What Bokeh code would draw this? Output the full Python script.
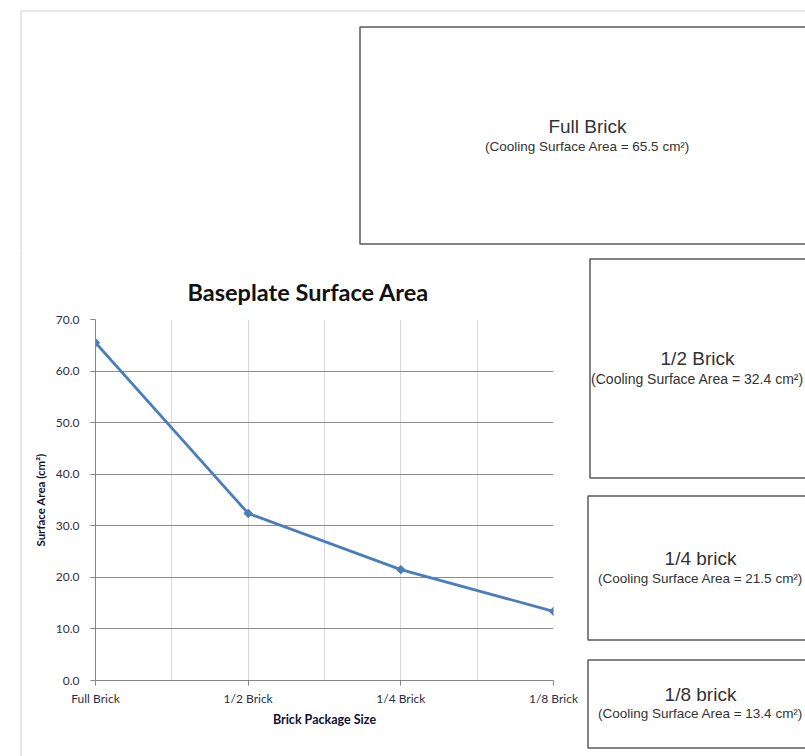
import numpy as np
from bokeh.plotting import figure
from bokeh.layouts import column, row
from bokeh.models import Range1d, FixedTicker, Label, PrintfTickFormatter
from bokeh.embed import file_html
from bokeh.resources import INLINE

# ---- data ----
categories = ["Full Brick", "1/2 Brick", "1/4 Brick", "1/8 Brick"]
surface_area = [65.5, 32.4, 21.5, 13.4]
y_ticks = [0, 10, 20, 30, 40, 50, 60, 70]
box_titles = ["Full Brick", "1/2 Brick", "1/4 brick", "1/8 brick"]

# ---- layout (picture pixels) ----
W, H = 805, 756
TOP_H = 250          # height of the top strip
L_W = 30             # thin strip that carries the left page border
R_X = 583            # left edge of the right column of boxes
FL, FR, FT, FB = 95, 553, 319, 680   # chart frame edges

BORDER = "#cfcfcf"
BOX_LINE = "#5a5a5a"
BOX_TXT = "#333333"
AX_FONT = "Lato"
TXT = "#2e2e48"


def canvas(x0, x1, y0, y1):
    """A blank figure whose frame covers the whole figure; data = picture px."""
    f = figure(width=x1 - x0, height=y1 - y0, output_backend="svg",
               toolbar_location=None, x_axis_location=None, y_axis_location=None,
               x_range=Range1d(x0, x1), y_range=Range1d(y1, y0),
               min_border=0, min_border_left=0, min_border_right=0,
               min_border_top=0, min_border_bottom=0)
    f.outline_line_color = None
    f.xgrid.visible = False
    f.ygrid.visible = False
    f.border_fill_color = "white"
    return f


def brick_box(f, l, t, b, cx, ty, ny, title, val, note_size="13.5px"):
    f.quad(left=[l + 0.5], right=[W + 40], top=[t + 0.5], bottom=[b + 0.5],
           fill_color=None, line_color=BOX_LINE, line_width=1.5)
    f.add_layout(Label(x=cx, y=ty, text=title, text_font="Liberation Sans",
                       text_font_size="19px", text_align="center",
                       text_baseline="middle", text_color=BOX_TXT))
    f.add_layout(Label(x=cx, y=ny, text=f"(Cooling Surface Area = {val} cm²)",
                       text_font="Liberation Sans", text_font_size=note_size,
                       text_align="center", text_baseline="middle",
                       text_color=BOX_TXT))


# ---- top strip: page border + full brick box ----
top = canvas(0, W, 0, TOP_H)
top.segment(x0=[20.5, 20.5], y0=[10.5, 10.5], x1=[W + 10, 20.5], y1=[10.5, TOP_H + 5],
            line_color=BORDER, line_width=1)
brick_box(top, 359, 26, 243, 587, 126, 146, box_titles[0], surface_area[0])

# ---- left strip: page border ----
left = canvas(0, L_W, TOP_H, H)
left.segment(x0=[20.5], y0=[TOP_H - 5], x1=[20.5], y1=[H + 5],
             line_color=BORDER, line_width=1)

# ---- right column: the three smaller boxes ----
right = canvas(R_X, W, TOP_H, H)
brick_box(right, 589, 258, 477, 697, 358, 378, box_titles[1], surface_area[1], "14px")
brick_box(right, 587, 495, 639, 700, 558, 578, box_titles[2], surface_area[2])
brick_box(right, 587, 659, 747, 700, 694, 713, box_titles[3], surface_area[3])

# ---- the chart ----
XMAX = len(categories) - 1
p = figure(width=R_X - L_W, height=H - TOP_H, output_backend="svg",
           toolbar_location=None,
           x_range=Range1d(0, XMAX), y_range=Range1d(0, y_ticks[-1]),
           min_border_left=FL - L_W, min_border_right=R_X - FR,
           min_border_top=FT - TOP_H, min_border_bottom=H - FB)
p.outline_line_color = None
p.border_fill_color = "white"

p.title.text = "Baseplate Surface Area"
p.title.text_font = AX_FONT
p.title.text_font_style = "bold"
p.title.text_font_size = "23.5px"
p.title.text_color = "#111111"
p.title.align = "left"
p.title.offset = 92
p.title.standoff = 28

xs = list(range(len(categories)))
p.xaxis.ticker = FixedTicker(ticks=xs, minor_ticks=[i + 0.5 for i in xs[:-1]])
p.xaxis.major_label_overrides = {i: c for i, c in zip(xs, categories)}
p.yaxis.ticker = FixedTicker(ticks=y_ticks)
p.yaxis.formatter = PrintfTickFormatter(format="%.1f")
for ax in (p.xaxis, p.yaxis):
    ax.axis_line_color = "#868686"
    ax.major_tick_line_color = "#868686"
    ax.major_tick_out = 5
    ax.major_tick_in = 0
    ax.minor_tick_line_color = None
    ax.major_label_text_font = AX_FONT
    ax.major_label_text_font_size = "12px"
    ax.major_label_text_color = TXT
    ax.axis_label_text_font = AX_FONT
    ax.axis_label_text_font_style = "bold"
    ax.axis_label_text_color = "#111133"
p.yaxis.axis_label_text_font_size = "11.5px"
p.xaxis.axis_label_text_font_size = "12.5px"
p.yaxis.major_label_standoff = 11
p.xaxis.major_label_standoff = 5
p.yaxis.axis_label = "Surface Area (cm²)"
p.xaxis.axis_label = "Brick Package Size"
p.yaxis.axis_label_standoff = 6
p.xaxis.axis_label_standoff = 3

p.xgrid.ticker = FixedTicker(ticks=xs, minor_ticks=[i + 0.5 for i in xs[:-1]])
p.xgrid.grid_line_color = "#d9d9d9"
p.xgrid.minor_grid_line_color = "#d9d9d9"
p.ygrid.ticker = FixedTicker(ticks=y_ticks)
p.ygrid.grid_line_color = "#8c8c8c"

p.line(xs, surface_area, line_color="#4a7ebb", line_width=2.75)
p.scatter(xs, surface_area, marker="square", angle=np.pi / 4, size=6,
          fill_color="#4a7ebb", line_color="#4a7ebb")

layout = column(top, row(column(left), p, column(right), spacing=0), spacing=0)
open("out.html", "w").write(file_html(layout, INLINE))
